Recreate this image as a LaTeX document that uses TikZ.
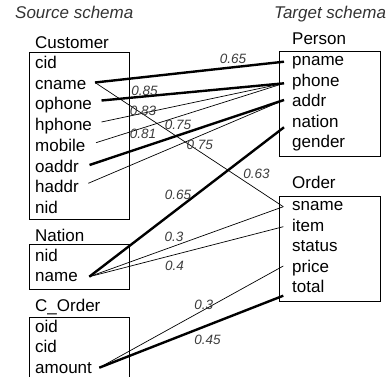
\documentclass[tikz,border=0pt]{standalone}
\usepackage{fontspec}
\setmainfont{Liberation Sans}
\definecolor{titlegray}{HTML}{333333}
\definecolor{scoregray}{HTML}{3C3C3C}
\begin{document}
\begin{tikzpicture}[x=1pt,y=-1pt,
  field/.style={anchor=base west, inner sep=0pt, font=\fontsize{17}{20}\selectfont},
  heading/.style={field, font=\fontsize{17}{20}\selectfont\itshape, text=titlegray},
  score/.style={inner sep=0pt, font=\fontsize{13.5}{16}\selectfont\itshape, text=scoregray},
  tbl/.style={draw, line width=0.8pt},
  weak/.style={line width=0.7pt},
  strong/.style={line width=2.4pt}]
\clip (0,0) rectangle (391,377);

% headings
\node[heading] (src) at (15,18.5) {Source schema};
\node[heading] (tgt) at (274,18.5) {Target schema};

% source tables
\node[field] (t-cust) at (35,49) {Customer};
\draw[tbl] (29,52) rectangle (129,219);
\node[field] (cid)    at (35,68.5)  {cid};
\node[field] (cname)  at (35,89.25) {cname};
\node[field] (ophone) at (35,110)   {ophone};
\node[field] (hphone) at (35,130.75){hphone};
\node[field] (mobile) at (35,151.5) {mobile};
\node[field] (oaddr)  at (35,172.25){oaddr};
\node[field] (haddr)  at (35,193)   {haddr};
\node[field] (cnid)   at (35,213.75){nid};

\node[field] (t-nation) at (35,241) {Nation};
\draw[tbl] (29,244) rectangle (129,289);
\node[field] (nnid)  at (35,261)   {nid};
\node[field] (nname) at (35,281.75){name};

\node[field] (t-corder) at (35,311) {C\_Order};
\draw[tbl] (29,317) rectangle (129,390);
\node[field] (oid)    at (35,332)   {oid};
\node[field] (ocid)   at (35,352.75){cid};
\node[field] (amount) at (35,373.5) {amount};

% target tables
\node[field] (t-person) at (292,45) {Person};
\draw[tbl] (279.5,51) rectangle (380,156);
\node[field] (pname)  at (292,66)   {pname};
\node[field] (phone)  at (292,86.5) {phone};
\node[field] (addr)   at (292,107)  {addr};
\node[field] (nation) at (292,127.5){nation};
\node[field] (gender) at (292,148)  {gender};

\node[field] (t-order) at (292,189) {Order};
\draw[tbl] (279.5,196) rectangle (380,301.7);
\node[field] (sname)  at (292,210.5){sname};
\node[field] (item)   at (292,231)  {item};
\node[field] (status) at (292,251.5){status};
\node[field] (price)  at (292,272)  {price};
\node[field] (total)  at (292,292.5){total};

% connector ends
\coordinate (cname-o)  at (95,82.5);
\coordinate (ophone-o) at (101.5,100.5);
\coordinate (hphone-o) at (101.5,122);
\coordinate (mobile-o) at (96,142.7);
\coordinate (oaddr-o)  at (89.5,165);
\coordinate (haddr-o)  at (88.3,183.3);
\coordinate (nname-o)  at (89.3,276.7);
\coordinate (amount-o) at (99.3,367.7);

\coordinate (pname-i)  at (284,61.7);
\coordinate (phone-i)  at (284,83.3);
\coordinate (addr-i)   at (284,100);
\coordinate (nation-i) at (284,127.3);
\coordinate (sname-i)  at (283.3,206.7);
\coordinate (item-i)   at (283.3,226.7);
\coordinate (price-i)  at (283.3,266);
\coordinate (total-i)  at (283.3,295.7);

% correspondences
\draw[strong] (cname-o) -- (pname-i);
\draw[weak]   (cname-o) -- (sname-i);
\draw[strong] (ophone-o) -- (phone-i);
\draw[weak]   (hphone-o) -- (phone-i);
\draw[weak]   (mobile-o) -- (phone-i);
\draw[strong] (oaddr-o) -- (addr-i);
\draw[weak]   (haddr-o) -- (addr-i);
\draw[strong] (nname-o) -- (nation-i);
\draw[weak]   (nname-o) -- (sname-i);
\draw[weak]   (nname-o) -- (item-i);
\draw[weak]   (amount-o) -- (price-i);
\draw[strong] (amount-o) -- (total-i);

% similarity scores
\node[score] (s1)  at (233,59)    {0.65};
\node[score] (s2)  at (144.5,90.5){0.85};
\node[score] (s3)  at (143,111)   {0.83};
\node[score] (s4)  at (178,124.5) {0.75};
\node[score] (s5)  at (143,133.5) {0.81};
\node[score] (s6)  at (199.7,145) {0.75};
\node[score] (s7)  at (256.5,173.5){0.63};
\node[score] (s8)  at (178,194.7) {0.65};
\node[score] (s9)  at (174,237.3) {0.3};
\node[score] (s10) at (174.5,265.8){0.4};
\node[score] (s11) at (203.7,305) {0.3};
\node[score] (s12) at (207.5,339.5){0.45};
\end{tikzpicture}
\end{document}
